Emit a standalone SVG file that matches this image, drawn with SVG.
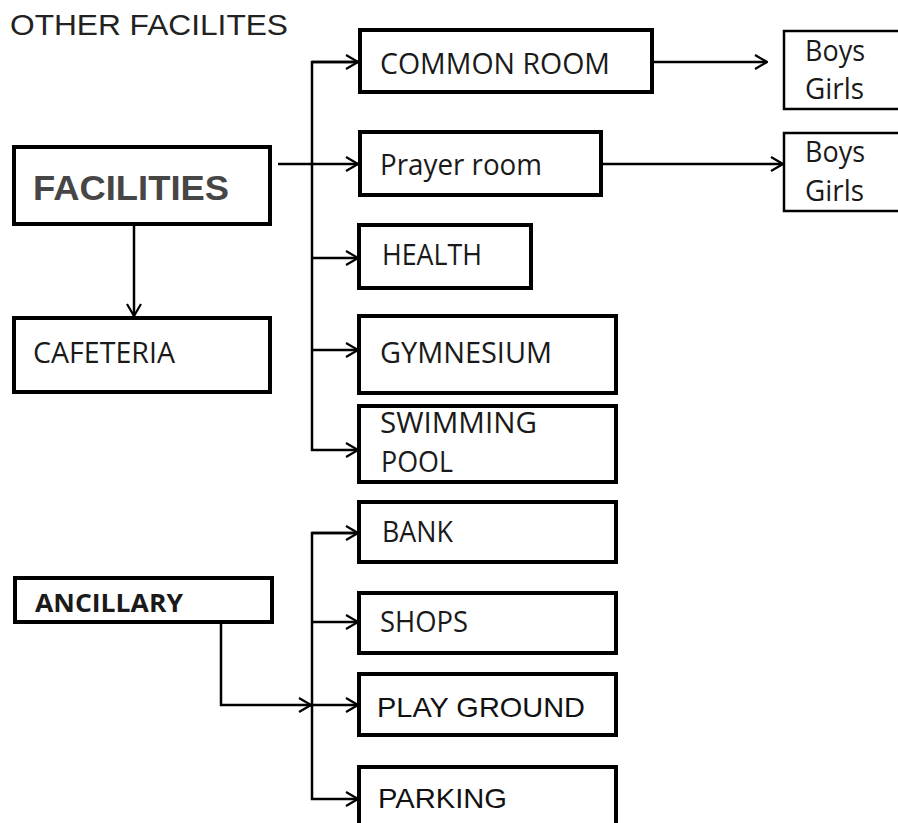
<svg xmlns="http://www.w3.org/2000/svg" width="898" height="823" viewBox="0 0 898 823">
  <defs>
    <style>
      .box { fill: #fff; stroke: #000; stroke-width: 4; }
      .thin { fill: #fff; stroke: #000; stroke-width: 2.5; }
      .hum { font-family: "Open Sans", "Noto Sans", sans-serif; font-size: 29px; fill: #1a1a1a; }
      .ar { font-family: "Liberation Sans", Arial, sans-serif; fill: #111; }
      .wire { fill: none; stroke: #000; stroke-width: 2.5; }
    </style>
    <marker id="open" viewBox="0 0 14 16" refX="13" refY="8" markerWidth="14" markerHeight="16" markerUnits="userSpaceOnUse" orient="auto">
      <path d="M1,1 L13,8 L1,15" fill="none" stroke="#000" stroke-width="2.2"/>
    </marker>
  </defs>
  <rect width="898" height="823" fill="#fff"/>

  <text class="ar" x="10" y="35" font-size="30" textLength="278" lengthAdjust="spacingAndGlyphs" style="fill:#222">OTHER FACILITES</text>

  <!-- connectors -->
  <g id="connectors">
    <!-- facilities branch -->
    <line class="wire" x1="278" y1="164" x2="358" y2="164" marker-end="url(#open)"/>
    <path class="wire" d="M358,62 H312 V450 H358" marker-end="url(#open)"/>
    <line class="wire" x1="312" y1="62" x2="358" y2="62" marker-end="url(#open)"/>
    <line class="wire" x1="312" y1="258" x2="358" y2="258" marker-end="url(#open)"/>
    <line class="wire" x1="312" y1="350" x2="358" y2="350" marker-end="url(#open)"/>
    <line class="wire" x1="134" y1="225" x2="134" y2="316" marker-end="url(#open)"/>
    <!-- sub-rooms -->
    <line class="wire" x1="652" y1="62" x2="767" y2="62" marker-end="url(#open)"/>
    <line class="wire" x1="601" y1="164" x2="783" y2="164" marker-end="url(#open)"/>
    <!-- ancillary branch -->
    <path class="wire" d="M221,623 V705 H311" marker-end="url(#open)"/>
    <path class="wire" d="M358,533 H312 V799 H358" marker-end="url(#open)"/>
    <line class="wire" x1="312" y1="533" x2="358" y2="533" marker-end="url(#open)"/>
    <line class="wire" x1="312" y1="622" x2="358" y2="622" marker-end="url(#open)"/>
    <line class="wire" x1="312" y1="705" x2="358" y2="705" marker-end="url(#open)"/>
  </g>

  <g id="facilities">
    <rect class="box" x="14" y="147" width="256" height="77"/>
    <text class="ar" x="33" y="200" font-size="35" font-weight="bold" style="fill:#464646" textLength="196" lengthAdjust="spacingAndGlyphs">FACILITIES</text>
  </g>
  <g id="cafeteria">
    <rect class="box" x="14" y="318" width="256" height="74"/>
    <text class="hum" x="33" y="363" textLength="142" lengthAdjust="spacingAndGlyphs">CAFETERIA</text>
  </g>
  <g id="common-room">
    <rect class="box" x="360" y="30" width="292" height="62"/>
    <text class="hum" x="380" y="74" textLength="230" lengthAdjust="spacingAndGlyphs">COMMON ROOM</text>
  </g>
  <g id="common-room-groups">
    <rect class="thin" x="784" y="31" width="130" height="78"/>
    <text class="hum" x="805" y="61" textLength="60" lengthAdjust="spacingAndGlyphs">Boys</text>
    <text class="hum" x="805" y="99" textLength="59" lengthAdjust="spacingAndGlyphs">Girls</text>
  </g>
  <g id="prayer-room">
    <rect class="box" x="360" y="132" width="241" height="63"/>
    <text class="hum" x="380" y="175" textLength="162" lengthAdjust="spacingAndGlyphs">Prayer room</text>
  </g>
  <g id="prayer-room-groups">
    <rect class="thin" x="784" y="133" width="130" height="78"/>
    <text class="hum" x="805" y="162" textLength="60" lengthAdjust="spacingAndGlyphs">Boys</text>
    <text class="hum" x="805" y="201" textLength="59" lengthAdjust="spacingAndGlyphs">Girls</text>
  </g>
  <g id="health">
    <rect class="box" x="359" y="225" width="172" height="63"/>
    <text class="hum" x="382" y="265" textLength="100" lengthAdjust="spacingAndGlyphs">HEALTH</text>
  </g>
  <g id="gymnesium">
    <rect class="box" x="359" y="316" width="257" height="77"/>
    <text class="hum" x="380" y="363" textLength="172" lengthAdjust="spacingAndGlyphs">GYMNESIUM</text>
  </g>
  <g id="swimming-pool">
    <rect class="box" x="359" y="406" width="257" height="76"/>
    <text class="hum" x="380" y="433" textLength="157" lengthAdjust="spacingAndGlyphs">SWIMMING</text>
    <text class="hum" x="381" y="472" textLength="72" lengthAdjust="spacingAndGlyphs">POOL</text>
  </g>
  <g id="ancillary">
    <rect class="box" x="15" y="578" width="257" height="44"/>
    <text class="hum" x="35" y="612" font-weight="bold" style="font-size:25px" textLength="148" lengthAdjust="spacingAndGlyphs">ANCILLARY</text>
  </g>
  <g id="bank">
    <rect class="box" x="359" y="502" width="257" height="60"/>
    <text class="hum" x="382" y="542" textLength="71" lengthAdjust="spacingAndGlyphs">BANK</text>
  </g>
  <g id="shops">
    <rect class="box" x="359" y="593" width="257" height="60"/>
    <text class="hum" x="380" y="632" textLength="88" lengthAdjust="spacingAndGlyphs">SHOPS</text>
  </g>
  <g id="play-ground">
    <rect class="box" x="359" y="674" width="257" height="61"/>
    <text class="ar" x="377" y="717" font-size="28" textLength="208" lengthAdjust="spacingAndGlyphs">PLAY GROUND</text>
  </g>
  <g id="parking">
    <rect class="box" x="359" y="767" width="257" height="70"/>
    <text class="ar" x="378" y="808" font-size="28" textLength="129" lengthAdjust="spacingAndGlyphs">PARKING</text>
  </g>
</svg>
